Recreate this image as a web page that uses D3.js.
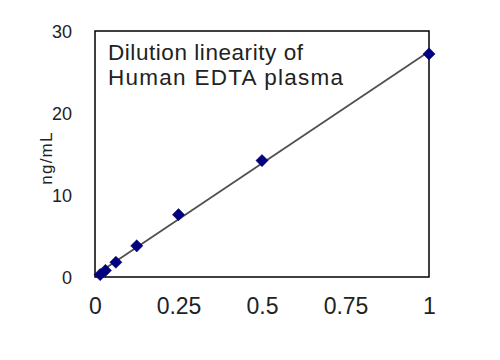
<!DOCTYPE html>
<html>
<head>
<meta charset="utf-8">
<script src="https://cdn.jsdelivr.net/npm/d3@7"></script>
<style>
  html, body { margin: 0; padding: 0; background: #fff; }
  svg { display: block; font-family: "Liberation Sans", Arial, sans-serif; }
</style>
</head>
<body>
<svg id="chart" width="500" height="360"></svg>
<script>
// ---- data ----
const dilution = [0.015625, 0.03125, 0.0625, 0.125, 0.25, 0.5, 1];
const concentration = [0.3, 0.8, 1.8, 3.8, 7.6, 14.2, 27.2];
const xTicks = [0, 0.25, 0.5, 0.75, 1];
const xTickLabels = ["0", "0.25", "0.5", "0.75", "1"];
const yTicks = [0, 10, 20, 30];
const titleLines = ["Dilution linearity of", "Human EDTA plasma"];
const yLabel = "ng/mL";

// ---- layout ----
const svg = d3.select("#chart");
const plot = { left: 95, top: 31, right: 429, bottom: 277 };

const x = d3.scaleLinear().domain([0, 1]).range([plot.left, plot.right]);
const y = d3.scaleLinear().domain([0, 30]).range([plot.bottom, plot.top]);

// plot border
svg.append("rect")
  .attr("x", plot.left).attr("y", plot.top)
  .attr("width", plot.right - plot.left).attr("height", plot.bottom - plot.top)
  .attr("fill", "none").attr("stroke", "#000").attr("stroke-width", 1.5);

// y axis labels
const yAxis = d3.axisLeft(y).tickValues(yTicks).tickSize(0).tickPadding(23);
const gy = svg.append("g").attr("transform", `translate(${plot.left},0)`).call(yAxis);
gy.select(".domain").remove();
gy.selectAll("text")
  .attr("font-family", "Liberation Sans, Arial, sans-serif")
  .attr("font-size", 18).attr("fill", "#222").attr("dy", "0.35em");

// x axis labels
const xAxis = d3.axisBottom(x).tickValues(xTicks)
  .tickFormat((d, i) => xTickLabels[i]).tickSize(0).tickPadding(21);
const gx = svg.append("g").attr("transform", `translate(0,${plot.bottom})`).call(xAxis);
gx.select(".domain").remove();
gx.selectAll("text")
  .attr("font-family", "Liberation Sans, Arial, sans-serif")
  .attr("font-size", 23).attr("fill", "#222");

// y axis title
svg.append("text")
  .attr("transform", `translate(52,158) rotate(-90)`)
  .attr("text-anchor", "middle")
  .attr("font-size", 17).attr("fill", "#222")
  .attr("letter-spacing", 1.2)
  .text(yLabel);

// linear fit from data
const n = dilution.length;
const mx = d3.mean(dilution), my = d3.mean(concentration);
let sxy = 0, sxx = 0;
for (let i = 0; i < n; i++) {
  sxy += (dilution[i] - mx) * (concentration[i] - my);
  sxx += (dilution[i] - mx) ** 2;
}
const slope = sxy / sxx, intercept = my - slope * mx;
const fitX = [0, 1];
svg.append("line")
  .attr("x1", x(fitX[0])).attr("y1", y(intercept + slope * fitX[0]))
  .attr("x2", x(fitX[1])).attr("y2", y(intercept + slope * fitX[1]))
  .attr("stroke", "#505050").attr("stroke-width", 1.8);

// markers (diamonds)
const sym = d3.symbol().type(d3.symbolDiamond2).size(95);
svg.append("g").selectAll("path")
  .data(dilution.map((d, i) => [d, concentration[i]]))
  .join("path")
  .attr("d", sym)
  .attr("transform", d => `translate(${x(d[0])},${y(d[1])})`)
  .attr("fill", "#000080")
  .attr("stroke", "#000060").attr("stroke-width", 0.5);

// title inside plot
const tl = [195, 235];
svg.append("g").selectAll("text")
  .data(titleLines)
  .join("text")
  .attr("x", 108)
  .attr("y", (d, i) => 60 + i * 25)
  .attr("font-size", 22.5).attr("fill", "#222")
  .attr("textLength", (d, i) => tl[i])
  .attr("lengthAdjust", "spacing")
  .text(d => d);
</script>
</body>
</html>
